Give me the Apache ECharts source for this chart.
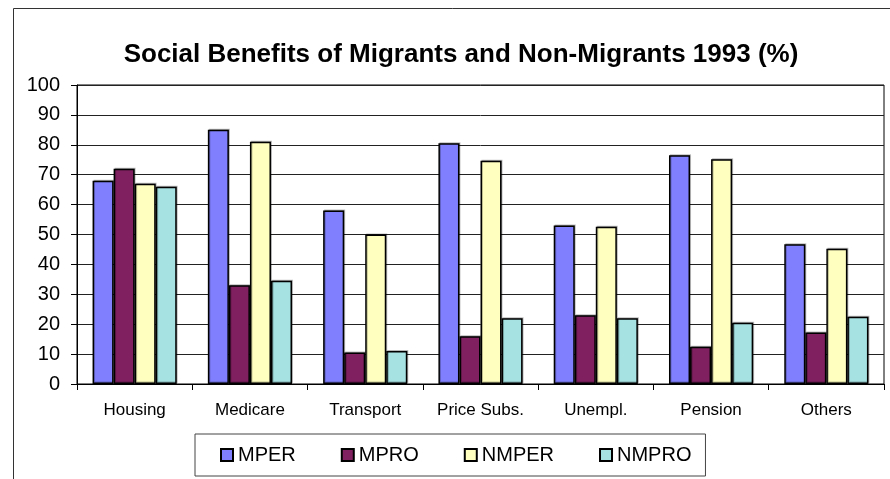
<!DOCTYPE html>
<html>
<head>
<meta charset="utf-8">
<script src="https://cdn.jsdelivr.net/npm/echarts@6/dist/echarts.min.js"></script>
<style>
  html, body { margin: 0; padding: 0; background: #fff; }
  #chart { width: 890px; height: 479px; }
</style>
</head>
<body>
<div id="chart"></div>
<script>
// Benefit categories and shares (%) by group, 1993
const categories = ['Housing', 'Medicare', 'Transport', 'Price Subs.', 'Unempl.', 'Pension', 'Others'];
const mper  = [68, 85, 58, 80.5, 53, 76.5, 46.7];
const mpro  = [72, 33, 10.5, 16, 23, 12.5, 17.2];
const nmper = [67, 81, 50, 74.7, 52.6, 75.2, 45.2];
const nmpro = [66, 34.5, 11, 22, 22, 20.5, 22.5];
const yTicks = [0, 10, 20, 30, 40, 50, 60, 70, 80, 90, 100];

const seriesDefs = [
  { name: 'MPER',  data: mper,  color: '#8080FF' },
  { name: 'MPRO',  data: mpro,  color: '#802060' },
  { name: 'NMPER', data: nmper, color: '#FFFFC0' },
  { name: 'NMPRO', data: nmpro, color: '#A6E2E2' }
];

const font = "'Liberation Sans', Arial, sans-serif";
const chart = echarts.init(document.getElementById('chart'), null, { renderer: 'canvas' });

chart.setOption({
  animation: false,
  backgroundColor: '#fff',
  graphic: [{
    type: 'rect',
    left: 11, top: 6,
    shape: { width: 900, height: 500 },
    style: { fill: 'none', stroke: '#333', lineWidth: 1 },
    silent: true
  }],
  title: {
    text: 'Social Benefits of Migrants and Non-Migrants 1993 (%)',
    left: 456, top: 37, textAlign: 'center',
    textStyle: { fontFamily: font, fontWeight: 'bold', fontSize: 26, color: '#000' }
  },
  legend: {
    left: 195, top: 434,
    padding: [10, 14, 10, 25],
    itemWidth: 12, itemHeight: 12, itemGap: 45,
    borderColor: '#444', borderWidth: 1,
    icon: 'rect',
    textStyle: { fontFamily: font, fontSize: 20, color: '#000', lineHeight: 22 },
    data: seriesDefs.map(s => s.name)
  },
  grid: {
    left: 77, right: 6, top: 85, bottom: 95,
    show: true, borderColor: '#000', borderWidth: 1
  },
  xAxis: {
    type: 'category',
    data: categories,
    axisLine: { lineStyle: { color: '#000', width: 1 } },
    axisTick: { show: true, length: 6, lineStyle: { color: '#000' } },
    axisLabel: { interval: 0, hideOverlap: false, margin: 18, fontFamily: font, fontSize: 17, color: '#000' }
  },
  yAxis: {
    type: 'value',
    min: yTicks[0], max: yTicks[yTicks.length - 1], interval: 10,
    axisLine: { show: true, lineStyle: { color: '#000', width: 1 } },
    axisTick: { show: true, length: 6, lineStyle: { color: '#000' } },
    axisLabel: { margin: 17, fontFamily: font, fontSize: 20, color: '#000' },
    splitLine: { lineStyle: { color: '#222', width: 1 } }
  },
  series: seriesDefs.map(s => ({
    name: s.name,
    type: 'bar',
    data: s.data,
    barGap: '0%',
    barCategoryGap: '27%',
    itemStyle: {
      color: s.color, borderColor: '#000', borderWidth: 1.5,
      shadowColor: 'rgba(0,0,0,0.25)', shadowBlur: 0, shadowOffsetX: 1, shadowOffsetY: -1
    }
  }))
});
</script>
</body>
</html>
